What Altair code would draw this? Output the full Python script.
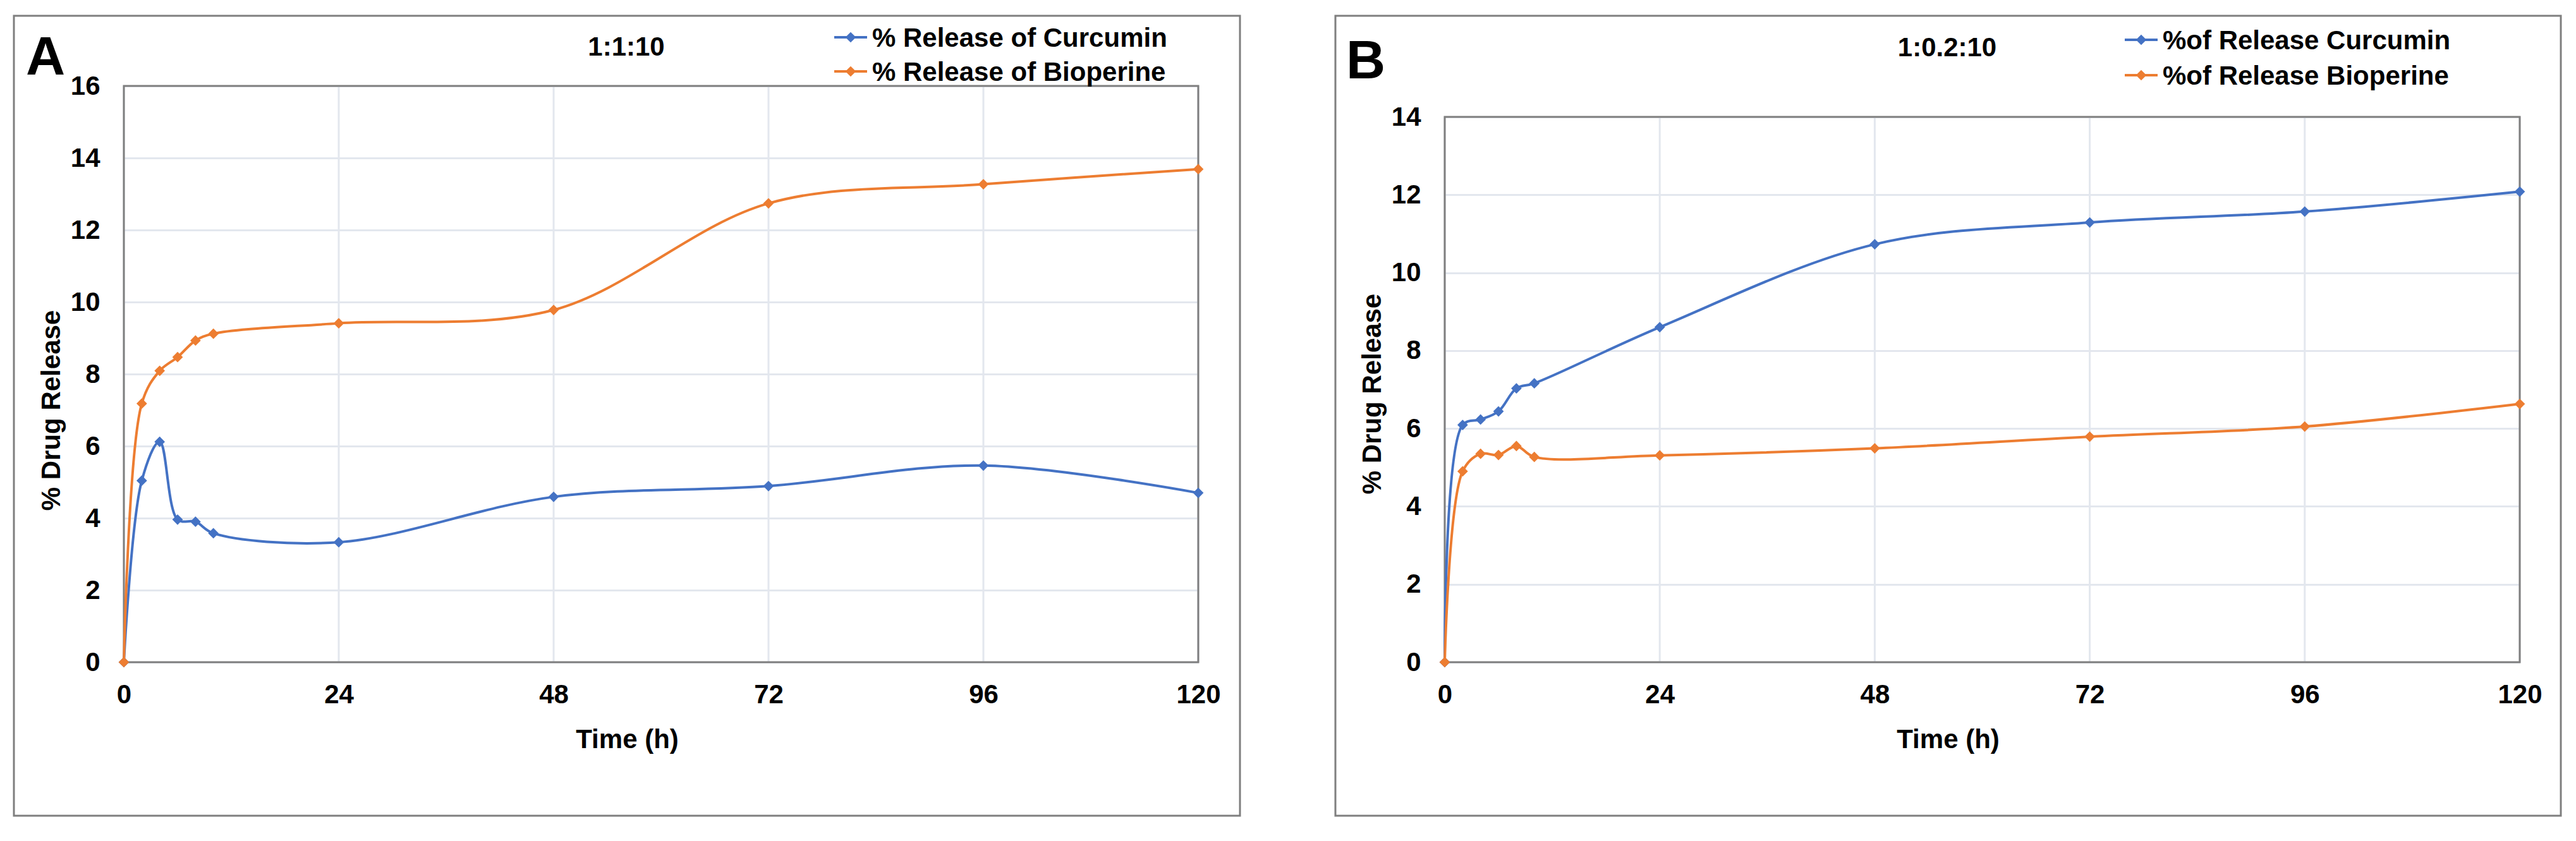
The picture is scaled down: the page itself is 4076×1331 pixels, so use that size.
import altair as alt
import pandas as pd

# ---------------- data ----------------
time_h = [0, 2, 4, 6, 8, 10, 24, 48, 72, 96, 120]

a_names = ["% Release of Curcumin", "% Release of Bioperine"]
a_curcumin = [0, 5.04, 6.12, 3.96, 3.90, 3.58, 3.33, 4.59, 4.89, 5.46, 4.70]
a_bioperine = [0, 7.18, 8.09, 8.47, 8.93, 9.12, 9.41, 9.78, 12.74, 13.27, 13.69]

b_names = ["%of Release Curcumin", "%of Release Bioperine"]
b_curcumin = [0, 6.09, 6.23, 6.44, 7.03, 7.16, 8.60, 10.73, 11.29, 11.57, 12.08]
b_bioperine = [0, 4.90, 5.35, 5.32, 5.55, 5.27, 5.31, 5.49, 5.79, 6.05, 6.63]

x_ticks = [0, 24, 48, 72, 96, 120]
a_y_ticks = [0, 2, 4, 6, 8, 10, 12, 14, 16]
b_y_ticks = [0, 2, 4, 6, 8, 10, 12, 14]

colors = ["#4472C4", "#ED7D31"]
FONT = "Liberation Sans"
GRAY = "#7f7f7f"
GRID = "#e3e7ee"
one = pd.DataFrame({"k": [0]})

H = 912  # common group height (plot bottom)


def panel(names, cur, bio, yticks, width, letter, ratio, lay):
    ptop = lay["ptop"]
    frames = []
    for name, vals in zip(names, [cur, bio]):
        frames.append(pd.DataFrame({"time": time_h, "value": vals, "series": name}))
    df = pd.concat(frames, ignore_index=True)

    x = alt.X(
        "time:Q",
        scale=alt.Scale(domain=[0, 120], nice=False, zero=True),
        axis=alt.Axis(
            values=x_ticks, title="Time (h)", labelFlush=False, labelPadding=31, grid=False,
            titleX=lay["tx"], titleY=lay["ty"], titleAlign="center",
            titleBaseline="middle", titleAngle=0,
        ),
    )
    y = alt.Y(
        "value:Q",
        scale=alt.Scale(domain=[0, yticks[-1]], nice=False, zero=True, range=[H, ptop]),
        axis=alt.Axis(
            values=yticks, title="% Drug Release", labelFlush=False, labelPadding=38,
            titleX=lay["ytx"], titleY=lay["yty"], titleAngle=270, titleAlign="center",
            titleBaseline="middle",
        ),
    )
    color = alt.Color("series:N", scale=alt.Scale(domain=names, range=colors), legend=None)

    layers = []
    # outer chart-area border
    layers.append(
        alt.Chart(one).mark_rect(fillOpacity=0, stroke=GRAY, strokeWidth=3).encode(
            x=alt.value(lay["bx1"]), x2=alt.value(lay["bx2"]),
            y=alt.value(lay["by1"]), y2=alt.value(lay["by2"]),
        )
    )
    # vertical gridlines at the x ticks
    layers.append(
        alt.Chart(pd.DataFrame({"time": x_ticks})).mark_rule(color=GRID, strokeWidth=3).encode(
            x=x, y=alt.value(ptop), y2=alt.value(H)
        )
    )
    # plot-area border
    layers.append(
        alt.Chart(one).mark_rect(fillOpacity=0, stroke=GRAY, strokeWidth=3).encode(
            x=alt.value(0), x2=alt.value(width), y=alt.value(ptop), y2=alt.value(H)
        )
    )
    for name in names:
        sub = alt.Chart(df).transform_filter(alt.datum.series == name)
        layers.append(sub.mark_line(interpolate="catmull-rom", strokeWidth=4).encode(x=x, y=y, color=color))
        layers.append(
            sub.mark_point(shape="diamond", filled=True, size=280, opacity=1).encode(x=x, y=y, color=color)
        )

    # panel letter and ratio title
    layers.append(
        alt.Chart(one).mark_text(text=letter, font=FONT, fontSize=86, fontWeight="bold",
                                 align="left", baseline="alphabetic", color="black").encode(
            x=alt.value(lay["lx"]), y=alt.value(lay["ly"]))
    )
    layers.append(
        alt.Chart(one).mark_text(text=ratio, font=FONT, fontSize=42, fontWeight="bold",
                                 align="center", baseline="middle", color="black").encode(
            x=alt.value(lay["rx"]), y=alt.value(lay["ry"]))
    )
    # legend
    for i, (name, c) in enumerate(zip(names, colors)):
        yy = lay["gy"][i]
        layers.append(
            alt.Chart(one).mark_rule(color=c, strokeWidth=4).encode(
                x=alt.value(lay["gx"]), x2=alt.value(lay["gx"] + 52), y=alt.value(yy))
        )
        layers.append(
            alt.Chart(one).mark_point(shape="diamond", filled=True, size=280, opacity=1, color=c).encode(
                x=alt.value(lay["gx"] + 26), y=alt.value(yy))
        )
        layers.append(
            alt.Chart(one).mark_text(text=name, font=FONT, fontSize=42, fontWeight="bold",
                                     align="left", baseline="middle", color="black").encode(
                x=alt.value(lay["gx"] + 60), y=alt.value(yy + 2))
        )
    return alt.layer(*layers).properties(
        width=width, height=H, view=alt.ViewBackground(stroke="transparent")
    )


lay_a = dict(ptop=0, tx=796, ty=122, ytx=-115, yty=513, bx1=-174, bx2=1766, by1=-111, by2=1155,
             lx=-155, ly=-18, rx=795, ry=-61, gx=1124, gy=[-77, -23])
lay_b = dict(ptop=49, tx=796, ty=122, ytx=-115, yty=487, bx1=-173, bx2=1766, by1=-111, by2=1155,
             lx=-156, ly=-12, rx=795, ry=-60, gx=1076, gy=[-73, -17])

pa = panel(a_names, a_curcumin, a_bioperine, a_y_ticks, 1700, "A", "1:1:10", lay_a)
pb = panel(b_names, b_curcumin, b_bioperine, b_y_ticks, 1701, "B", "1:0.2:10", lay_b)

chart = (
    alt.hconcat(pa, pb, spacing=147)
    .resolve_scale(x="independent", y="independent", color="independent")
    .configure(padding={"left": 12, "top": 15, "right": 0, "bottom": 0}, background="white")
    .configure_view(stroke="transparent")
    .configure_axis(
        labelFont=FONT, labelFontSize=42, labelFontWeight="bold", labelColor="black",
        titleFont=FONT, titleFontSize=42, titleFontWeight="bold", titleColor="black",
        gridColor=GRID, gridWidth=3, domain=False, ticks=False, tickSize=0,
    )
)

chart.save("out.html", embed_options={"renderer": "svg", "actions": False})
